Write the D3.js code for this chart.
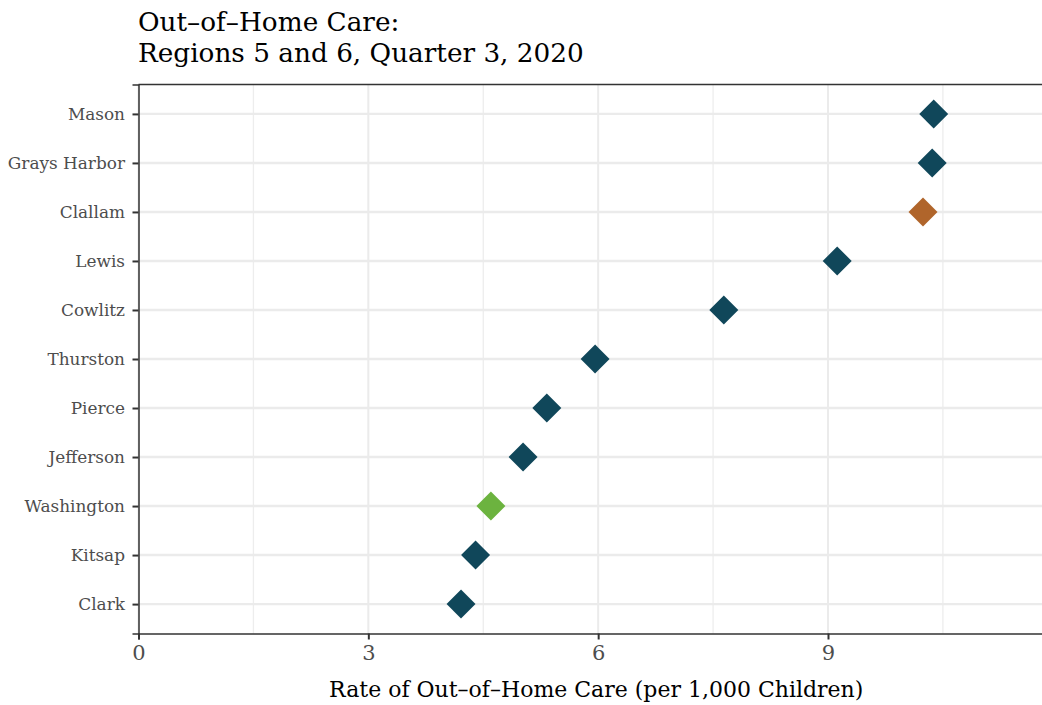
<!DOCTYPE html>
<html>
<head>
<meta charset="utf-8">
<script src="https://cdn.jsdelivr.net/npm/d3@7"></script>
<style>
  html, body { margin: 0; padding: 0; background: #fff; }
  svg { display: block; }
  text { font-family: "DejaVu Serif", serif; }
</style>
</head>
<body>
<svg id="chart" width="1042" height="705"></svg>
<script>
const counties = ["Mason", "Grays Harbor", "Clallam", "Lewis", "Cowlitz", "Thurston", "Pierce", "Jefferson", "Washington", "Kitsap", "Clark"];
const rates = [10.38, 10.36, 10.24, 9.12, 7.64, 5.96, 5.33, 5.02, 4.60, 4.40, 4.21];
const groups = ["county", "county", "highlight", "county", "county", "county", "county", "county", "state", "county", "county"];
const xTicks = [0, 3, 6, 9];
const xMinor = [1.5, 4.5, 7.5, 10.5];
const titleLines = ["Out\u2013of\u2013Home Care:", "Regions 5 and 6, Quarter 3, 2020"];
const xTitle = "Rate of Out\u2013of\u2013Home Care (per 1,000 Children)";

const colors = { county: "#10475a", highlight: "#b0652b", state: "#6cb33f" };

const svg = d3.select("#chart");
const mLeft = 138.5, mRight = 1054, mTop = 84.5, mBottom = 633.5;

const x = d3.scaleLinear().domain([0, 11.95]).range([mLeft, mRight]);
const y = d3.scalePoint().domain(counties).range([mTop, mBottom]).padding(0.6);

// gridlines
const g = svg.append("g");
g.selectAll(".minor").data(xMinor).join("line")
  .attr("x1", d => x(d)).attr("x2", d => x(d))
  .attr("y1", mTop).attr("y2", mBottom)
  .attr("stroke", "#ededed").attr("stroke-width", 1.3);
g.selectAll(".major").data(xTicks).join("line")
  .attr("x1", d => x(d)).attr("x2", d => x(d))
  .attr("y1", mTop).attr("y2", mBottom)
  .attr("stroke", "#ebebeb").attr("stroke-width", 2);
g.selectAll(".hgrid").data(counties).join("line")
  .attr("x1", mLeft).attr("x2", mRight)
  .attr("y1", d => y(d)).attr("y2", d => y(d))
  .attr("stroke", "#ebebeb").attr("stroke-width", 2.4);

// top border
svg.append("line").attr("x1", mLeft).attr("x2", mRight).attr("y1", mTop).attr("y2", mTop)
  .attr("stroke", "#333").attr("stroke-width", 1.5);

// axes
const xAxis = svg.append("g").attr("transform", `translate(0,${mBottom})`)
  .call(d3.axisBottom(x).tickValues(xTicks).tickFormat(d3.format("d")).tickSize(6).tickPadding(6));
xAxis.select(".domain").attr("stroke", "#333").attr("stroke-width", 1.5);
xAxis.selectAll(".tick line").attr("stroke", "#333").attr("stroke-width", 2);
xAxis.selectAll(".tick text").attr("fill", "#4d4d4d").style("font-size", "21px")
  .style("font-family", '"DejaVu Serif", serif');

const yAxis = svg.append("g").attr("transform", `translate(${mLeft},0)`)
  .call(d3.axisLeft(y).tickSize(6).tickPadding(7.5));
yAxis.select(".domain").attr("stroke", "#333").attr("stroke-width", 1.5);
yAxis.selectAll(".tick line").attr("stroke", "#333").attr("stroke-width", 2);
yAxis.selectAll(".tick text").attr("fill", "#4d4d4d").style("font-size", "16.9px")
  .style("font-family", '"DejaVu Serif", serif');

// points (diamonds)
const diamond = d3.symbol().type(d3.symbolSquare).size(420);
svg.append("g").selectAll("path").data(counties).join("path")
  .attr("d", diamond)
  .attr("transform", (d, i) => `translate(${x(rates[i])},${y(d)}) rotate(45)`)
  .attr("fill", (d, i) => colors[groups[i]]);

// titles
svg.append("text").attr("x", 138).attr("y", 31).attr("fill", "#000")
  .style("font-size", "26.3px").text(titleLines[0]);
svg.append("text").attr("x", 138).attr("y", 62).attr("fill", "#000")
  .style("font-size", "26.3px").text(titleLines[1]);

svg.append("text").attr("x", (mLeft + mRight) / 2).attr("y", 697).attr("text-anchor", "middle")
  .attr("fill", "#000").style("font-size", "22px").text(xTitle);
</script>
</body>
</html>
